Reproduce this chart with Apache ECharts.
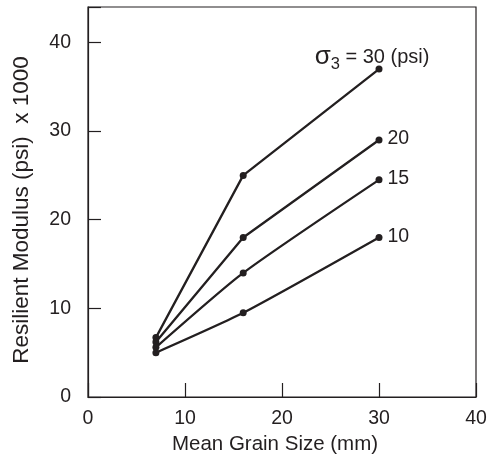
<!DOCTYPE html>
<html>
<head>
<meta charset="utf-8">
<script src="https://cdn.jsdelivr.net/npm/echarts@6/dist/echarts.min.js"></script>
<style>html,body{margin:0;padding:0;background:#fff}#c{width:488px;height:460px}</style>
</head>
<body>
<div id="c"></div>
<script>
var grainSize = [7, 16, 30];
var sigma30 = [6.7, 25, 37];
var sigma20 = [6.2, 18, 29];
var sigma15 = [5.6, 14, 24.5];
var sigma10 = [5.0, 9.5, 18];
var seriesNames = ['30', '20', '15', '10'];
var xTicks = [0, 10, 20, 30, 40];
var yTicks = [0, 10, 20, 30, 40];

var FONT = '"Liberation Sans", Arial, sans-serif';
var INK = '#231f20';

function pairs(ys) { return grainSize.map(function (x, i) { return [x, ys[i]]; }); }

function makeSeries(name, ys, smooth, labelCfg) {
  var data = pairs(ys);
  data[data.length - 1] = { value: data[data.length - 1], label: labelCfg };
  return {
    name: name, type: 'line', data: data, smooth: smooth,
    symbol: 'circle', symbolSize: 7,
    lineStyle: { color: INK, width: 2.3 },
    itemStyle: { color: INK },
    label: { show: false },
    emphasis: { disabled: true },
    z: 3
  };
}

function sideLabel(txt) {
  return { show: true, position: 'right', distance: 5, offset: [0, -1], formatter: txt,
    color: INK, fontFamily: FONT, fontSize: 19.5 };
}

var chart = echarts.init(document.getElementById('c'), null, { renderer: 'canvas' });
chart.setOption({
  animation: false,
  backgroundColor: '#fff',
  grid: { left: 88, right: 12, top: 7, bottom: 63, outerBoundsMode: 'none', containLabel: false,
    show: true, borderColor: INK, borderWidth: 1.2, backgroundColor: 'transparent' },
  xAxis: {
    type: 'value', min: 0, max: 40, interval: 10,
    name: 'Mean Grain Size (mm)', nameLocation: 'middle', nameGap: 37,
    nameTextStyle: { color: INK, fontFamily: FONT, fontSize: 20.5, padding: [0, 14, 0, 0] },
    axisLine: { show: true, lineStyle: { color: INK, width: 1.2 } },
    axisTick: { show: true, inside: true, length: 14, lineStyle: { color: INK, width: 1.2 } },
    axisLabel: { color: INK, fontFamily: FONT, fontSize: 19.5, margin: 12,
      formatter: function (v) { return xTicks.indexOf(v) >= 0 ? String(v) : ''; } },
    splitLine: { show: false }
  },
  yAxis: {
    type: 'value', min: 0, max: 44, interval: 10,
    name: 'Resilient Modulus (psi)  x 1000', nameLocation: 'middle', nameGap: 55,
    nameTextStyle: { color: INK, fontFamily: FONT, fontSize: 22.5, padding: [0, 16, 0, 0] },
    axisLine: { show: true, lineStyle: { color: INK, width: 1.2 } },
    axisTick: { show: true, inside: true, length: 13, lineStyle: { color: INK, width: 1.2 } },
    axisLabel: { color: INK, fontFamily: FONT, fontSize: 19.5, margin: 17,
      formatter: function (v) { return yTicks.indexOf(v) >= 0 ? String(v) : ''; } },
    splitLine: { show: false }
  },
  series: [
    makeSeries(seriesNames[0], sigma30, false, {
      show: true, position: 'top', distance: 4, offset: [-7, 11],
      formatter: '{s|σ}{sub|3}{t| = 30 (psi)}',
      rich: {
        s: { fontFamily: FONT, fontSize: 26, color: INK },
        sub: { fontFamily: FONT, fontSize: 16.5, color: INK, padding: [14, 0, 0, 0] },
        t: { fontFamily: FONT, fontSize: 20, color: INK }
      }
    }),
    makeSeries(seriesNames[1], sigma20, false, sideLabel('20')),
    makeSeries(seriesNames[2], sigma15, 0.2, sideLabel('15')),
    makeSeries(seriesNames[3], sigma10, 0.2, sideLabel('10'))
  ]
});
</script>
</body>
</html>
